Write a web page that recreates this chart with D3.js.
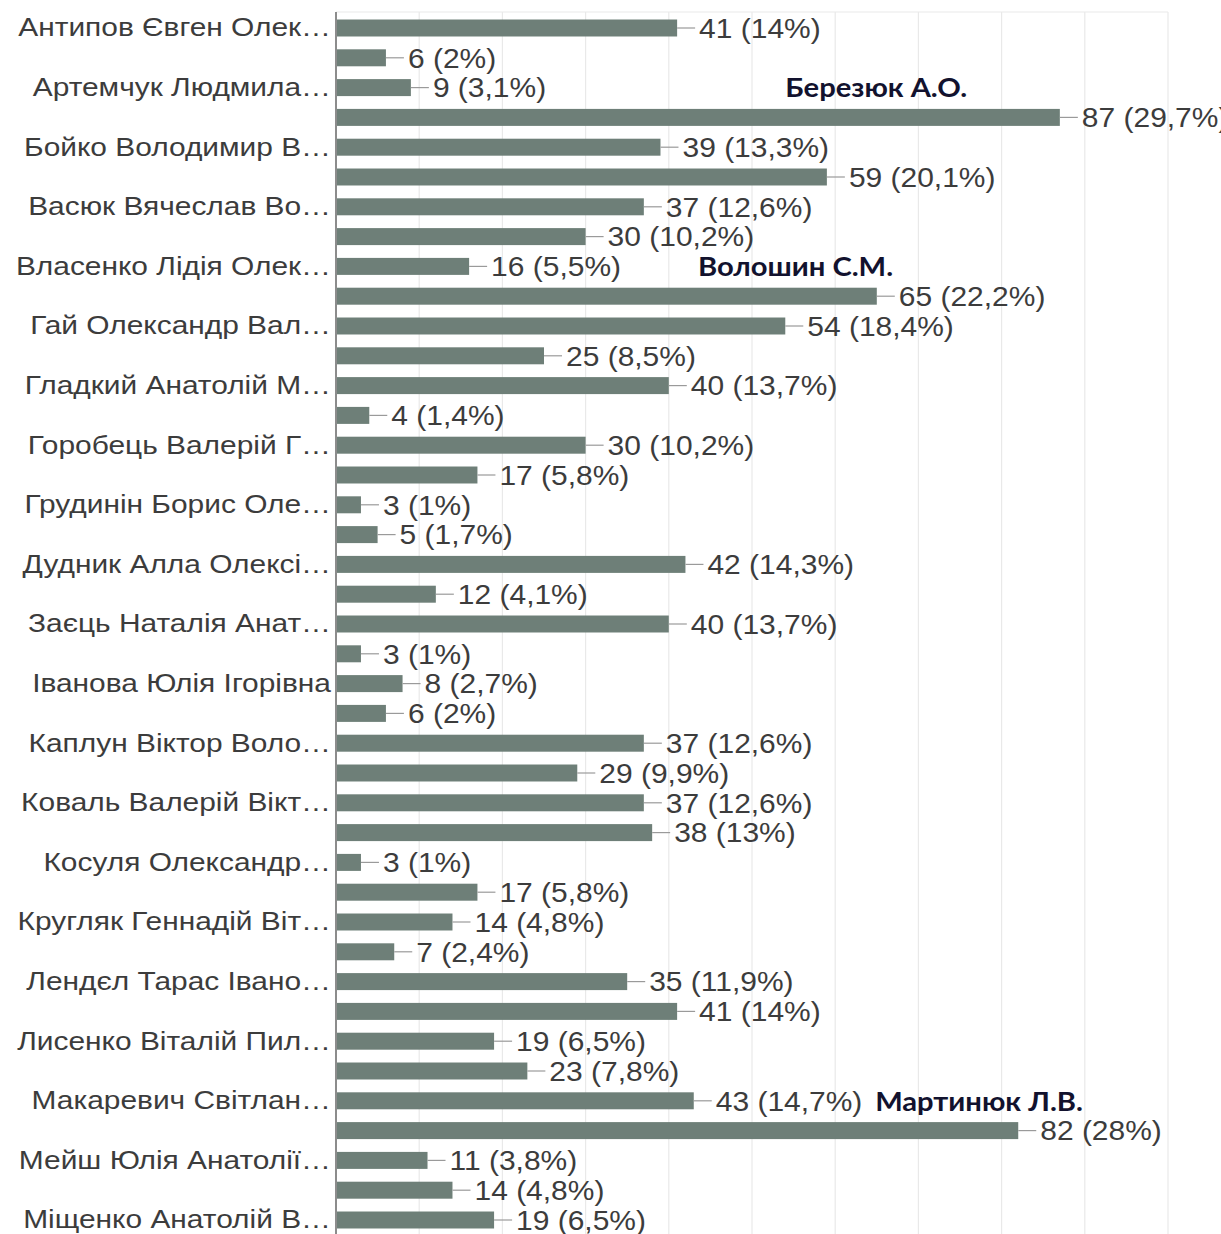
<!DOCTYPE html>
<html>
<head>
<meta charset="utf-8">
<script src="https://cdn.jsdelivr.net/npm/d3@7"></script>
<style>
  body { margin: 0; background: #fff; }
  svg text { font-family: "Liberation Sans", Arial, sans-serif; }
</style>
</head>
<body>
<div id="chart"></div>
<script>
// names shown on the axis (every second row carries a label)
var names = [
  "Антипов Євген Олек…", "Артемчук Людмила…", "Бойко Володимир В…",
  "Васюк Вячеслав Во…", "Власенко Лідія Олек…", "Гай Олександр Вал…",
  "Гладкий Анатолій М…", "Горобець Валерій Г…", "Грудинін Борис Оле…",
  "Дудник Алла Олексі…", "Заєць Наталія Анат…", "Іванова Юлія Ігорівна",
  "Каплун Віктор Воло…", "Коваль Валерій Вікт…", "Косуля Олександр…",
  "Кругляк Геннадій Віт…", "Лендєл Тарас Івано…", "Лисенко Віталій Пил…",
  "Макаревич Світлан…", "Мейш Юлія Анатолії…", "Міщенко Анатолій В…"
];

var values = [41, 6, 9, 87, 39, 59, 37, 30, 16, 65, 54, 25, 40, 4, 30, 17, 3, 5, 42, 12,
  40, 3, 8, 6, 37, 29, 37, 38, 3, 17, 14, 7, 35, 41, 19, 23, 43, 82, 11, 14, 19];

var percents = ["14%", "2%", "3,1%", "29,7%", "13,3%", "20,1%", "12,6%", "10,2%", "5,5%", "22,2%",
  "18,4%", "8,5%", "13,7%", "1,4%", "10,2%", "5,8%", "1%", "1,7%", "14,3%", "4,1%",
  "13,7%", "1%", "2,7%", "2%", "12,6%", "9,9%", "12,6%", "13%", "1%", "5,8%",
  "4,8%", "2,4%", "11,9%", "14%", "6,5%", "7,8%", "14,7%", "28%", "3,8%", "4,8%", "6,5%"];

var gridTicks = [10, 20, 30, 40, 50, 60, 70, 80, 90, 100];

// hand-placed callouts naming some of the hidden rows
var noteTexts = ["Березюк А.О.", "Волошин С.М.", "Мартинюк Л.В."];
var noteRows = [2, 8, 36];
var noteAt = [54, 43.5, 64.8];

var svgWidth = 1221;
var svgHeight = 1234;

var plotLeft = 336;
var plotTop = 12;
// text in the picture is a little wider than plain Arial
var nameStretch = 1.15;
var valueStretch = 1.11;

var svg = d3.select("#chart")
  .append("svg")
  .attr("width", svgWidth)
  .attr("height", svgHeight);

var x = d3.scaleLinear()
  .domain([0, 100])
  .range([plotLeft, 1168]);

var rows = d3.range(values.length);
var y = d3.scaleBand()
  .domain(rows)
  .range([13.1, 13.1 + 29.8 * rows.length])
  .paddingInner(0.43)
  .paddingOuter(0.215);

var mid = i => y(i) + y.bandwidth() / 2;

// grid
svg.append("g")
  .selectAll("line")
  .data(gridTicks)
  .enter()
  .append("line")
  .attr("x1", d => x(d))
  .attr("x2", d => x(d))
  .attr("y1", plotTop)
  .attr("y2", svgHeight)
  .attr("stroke", "#e9e9e9")
  .attr("stroke-width", 1.2);

svg.append("line")
  .attr("x1", plotLeft)
  .attr("x2", x(100))
  .attr("y1", plotTop)
  .attr("y2", plotTop)
  .attr("stroke", "#e9e9e9")
  .attr("stroke-width", 1.2);

// bars
svg.append("g")
  .selectAll("rect")
  .data(values)
  .enter()
  .append("rect")
  .attr("x", x(0))
  .attr("y", (d, i) => y(i))
  .attr("width", d => x(d) - x(0))
  .attr("height", y.bandwidth())
  .attr("fill", "#6e7f78");

// connector + value label
var labels = svg.append("g");
labels.selectAll("line")
  .data(values)
  .enter()
  .append("line")
  .attr("x1", d => x(d))
  .attr("x2", d => x(d) + 18)
  .attr("y1", (d, i) => mid(i))
  .attr("y2", (d, i) => mid(i))
  .attr("stroke", "#9a9a9a")
  .attr("stroke-width", 1.2);

labels.selectAll("text")
  .data(values)
  .enter()
  .append("text")
  .attr("transform", (d, i) => `translate(${x(d) + 22}, ${mid(i)}) scale(${valueStretch}, 1)`)
  .attr("dy", "0.36em")
  .attr("fill", "#3c3c3c")
  .style("font-size", "27px")
  .text((d, i) => d + " (" + percents[i] + ")");

// category axis
var leftAxis = d3.axisLeft(y)
  .tickSize(0)
  .tickPadding(5)
  .tickFormat(i => i % 2 ? "" : names[i / 2]);

var yAxis = svg.append("g")
  .attr("transform", `translate(${plotLeft}, 0)`)
  .call(leftAxis);

yAxis.select(".domain").remove();
yAxis.selectAll("text")
  .attr("x", 0)
  .attr("transform", `translate(-5, 0) scale(${nameStretch}, 1)`)
  .attr("fill", "#3c3c3c")
  .style("font-size", "26px");

svg.append("line")
  .attr("x1", plotLeft)
  .attr("x2", plotLeft)
  .attr("y1", plotTop)
  .attr("y2", svgHeight)
  .attr("stroke", "#8c8c8c")
  .attr("stroke-width", 2);

// callouts
svg.append("g")
  .selectAll("text")
  .data(noteTexts)
  .enter()
  .append("text")
  .attr("transform", (d, i) => `translate(${x(noteAt[i])}, ${mid(noteRows[i])}) scale(1.08, 1)`)
  .attr("dy", "0.36em")
  .attr("fill", "#12122e")
  .style("font-family", "Lato, 'Open Sans', sans-serif")
  .style("font-weight", "bold")
  .style("font-size", "27px")
  .text(d => d);
</script>
</body>
</html>
